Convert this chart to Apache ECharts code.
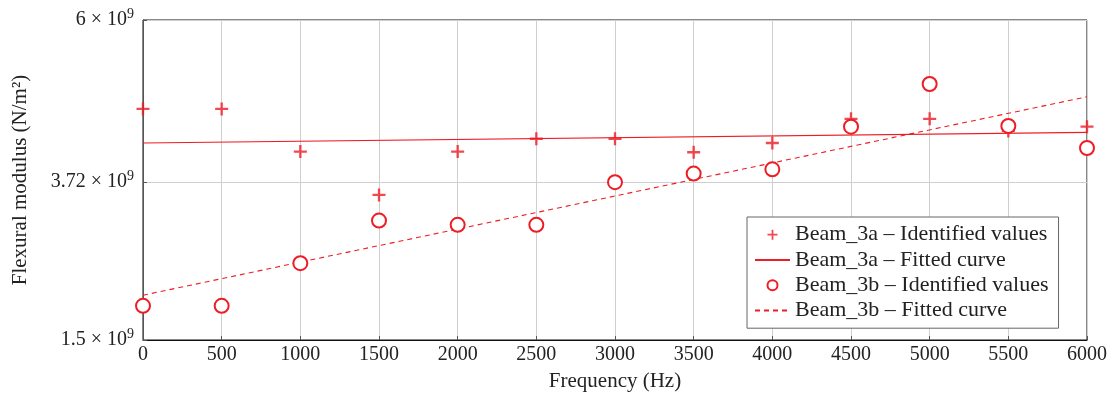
<!DOCTYPE html>
<html>
<head>
<meta charset="utf-8">
<script src="https://cdn.jsdelivr.net/npm/echarts@6/dist/echarts.min.js"></script>
<style>
  html, body { margin: 0; padding: 0; background: #fff; }
  #chart { width: 1119px; height: 399px; }
</style>
</head>
<body>
<div id="chart"></div>
<script>
// Frequencies (Hz) at which the flexural modulus was identified
const frequencies = [0, 500, 1000, 1500, 2000, 2500, 3000, 3500, 4000, 4500, 5000, 5500, 6000];

// Identified flexural modulus (×10^9 N/m²)
const beam3aValues = [4.75, 4.75, 4.15, 3.54, 4.15, 4.33, 4.33, 4.14, 4.27, 4.61, 4.61, 4.44, 4.50];
const beam3bValues = [1.98, 1.98, 2.58, 3.18, 3.12, 3.12, 3.72, 3.84, 3.90, 4.50, 5.10, 4.51, 4.20];

// Fitted straight lines, given by their end points [frequency, modulus ×10^9]
const beam3aFit = [[0, 4.27], [6000, 4.42]];
const beam3bFit = [[0, 2.13], [6000, 4.92]];

// Y axis tick values (×10^9)
const yTicks = [1.5, 3.72, 6];

const RED = '#ee1c24';
const TEXT = '#222';
const FONT = '"Liberation Serif", "DejaVu Serif", serif';
const E9 = 1e9;

const toPairs = (xs, ys) => xs.map((x, i) => [x, ys[i] * E9]);
const scaleFit = pts => pts.map(p => [p[0], p[1] * E9]);

const PLUS = 'path://M4.1,0h1.8v4.1h4.1v1.8h-4.1v4.1h-1.8v-4.1h-4.1v-1.8h4.1z';
// Legend entries of the fitted lines show only the line, no marker
const NO_MARKER = { color: 'rgba(0,0,0,0)', borderColor: 'rgba(0,0,0,0)', borderWidth: 0 };

const chart = echarts.init(document.getElementById('chart'), null, { renderer: 'canvas' });

chart.setOption({
  animation: false,
  backgroundColor: '#fff',
  textStyle: { fontFamily: FONT, color: TEXT },
  grid: {
    left: 143, right: 32, top: 20, bottom: 59,
    show: true, borderColor: '#111', borderWidth: 1, backgroundColor: 'transparent'
  },
  xAxis: {
    type: 'value',
    min: 0, max: 6000, interval: 500,
    name: 'Frequency (Hz)',
    nameLocation: 'middle',
    nameGap: 31,
    nameTextStyle: { fontFamily: FONT, fontSize: 21, color: TEXT },
    axisLine: { show: true, lineStyle: { color: '#111', width: 1 } },
    axisTick: { show: true, inside: true, length: 4, lineStyle: { color: '#555' } },
    axisLabel: { fontFamily: FONT, fontSize: 20, color: TEXT, margin: 5, formatter: v => String(v) },
    splitLine: { show: true, lineStyle: { color: '#cfcfcf', width: 1 } }
  },
  yAxis: {
    type: 'value',
    min: yTicks[0] * E9, max: yTicks[yTicks.length - 1] * E9,
    name: 'Flexural modulus (N/m²)',
    nameLocation: 'middle',
    nameGap: 112,
    nameTextStyle: { fontFamily: FONT, fontSize: 21, color: TEXT },
    axisLine: { show: true, lineStyle: { color: '#555', width: 1 } },
    axisTick: { show: true, inside: true, length: 4, lineStyle: { color: '#555' },
                customValues: yTicks.map(v => v * E9) },
    axisLabel: {
      customValues: yTicks.map(v => v * E9),
      margin: 9,
      formatter: v => '{m|' + String(Math.round(v / 1e7) / 100) + ' × 10}{s|9}',
      rich: {
        m: { fontFamily: FONT, fontSize: 20, color: TEXT, lineHeight: 26 },
        s: { fontFamily: FONT, fontSize: 14, color: TEXT, lineHeight: 14, verticalAlign: 'top' }
      }
    },
    splitLine: { show: true, lineStyle: { color: '#cfcfcf', width: 1 } }
  },
  legend: {
    orient: 'vertical',
    left: 747, top: 217,
    padding: [5, 10, 5, 7],
    itemGap: 0,
    itemWidth: 35,
    itemHeight: 10,
    borderColor: '#666', borderWidth: 1,
    backgroundColor: '#fff',
    textStyle: { fontFamily: FONT, fontSize: 22, color: TEXT, lineHeight: 25.3 },
    data: [
      { name: 'Beam_3a – Identified values', icon: PLUS },
      { name: 'Beam_3a – Fitted curve', icon: 'inherit', itemStyle: NO_MARKER },
      { name: 'Beam_3b – Identified values', icon: 'emptyCircle' },
      { name: 'Beam_3b – Fitted curve', icon: 'inherit', itemStyle: NO_MARKER }
    ]
  },
  series: [
    {
      name: 'Beam_3a – Fitted curve',
      type: 'line',
      data: scaleFit(beam3aFit),
      symbol: 'none',
      lineStyle: { color: RED, width: 1.1 },
      itemStyle: { color: RED },
      z: 3
    },
    {
      name: 'Beam_3b – Fitted curve',
      type: 'line',
      data: scaleFit(beam3bFit),
      symbol: 'none',
      lineStyle: { color: RED, width: 1.1, type: [5, 4] },
      itemStyle: { color: RED },
      z: 3
    },
    {
      name: 'Beam_3a – Identified values',
      type: 'scatter',
      data: toPairs(frequencies, beam3aValues),
      symbol: PLUS,
      symbolSize: 13,
      itemStyle: { color: RED },
      z: 4
    },
    {
      name: 'Beam_3b – Identified values',
      type: 'scatter',
      data: toPairs(frequencies, beam3bValues),
      symbol: 'emptyCircle',
      symbolSize: 14,
      itemStyle: { color: RED, borderColor: RED, borderWidth: 2, opacity: 1 },
      z: 4
    }
  ]
});
</script>
</body>
</html>
